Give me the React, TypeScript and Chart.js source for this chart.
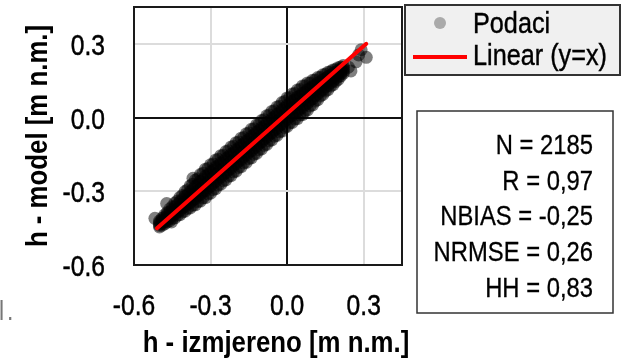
import React, { useEffect, useRef } from "react";
import { Chart, registerables } from "chart.js";

Chart.register(...registerables);

// Measured (x) vs. model (y) water level, m n.m. — read from the picture,
// column by column: [izmjereno, [model values at that izmjereno]]
const podaciPoStupcima: [number, number[]][] = [
  [-0.5, [-0.445, -0.439, -0.433, -0.427, -0.421]],
  [-0.49, [-0.438, -0.431, -0.424, -0.417, -0.41]],
  [-0.48, [-0.433, -0.424, -0.415, -0.406, -0.397]],
  [-0.47, [-0.425, -0.415, -0.406, -0.396, -0.387]],
  [-0.46, [-0.42, -0.408, -0.396, -0.384, -0.372]],
  [-0.45, [-0.411, -0.399, -0.387, -0.375, -0.363]],
  [-0.44, [-0.408, -0.393, -0.378, -0.363, -0.348]],
  [-0.43, [-0.398, -0.384, -0.369, -0.354, -0.34]],
  [-0.42, [-0.395, -0.378, -0.36, -0.343, -0.325]],
  [-0.41, [-0.384, -0.367, -0.35, -0.333, -0.317]],
  [-0.4, [-0.381, -0.361, -0.341, -0.321, -0.301]],
  [-0.39, [-0.37, -0.351, -0.332, -0.313, -0.294]],
  [-0.38, [-0.368, -0.346, -0.323, -0.301, -0.278]],
  [-0.37, [-0.357, -0.335, -0.314, -0.293, -0.271]],
  [-0.36, [-0.355, -0.33, -0.305, -0.28, -0.255]],
  [-0.35, [-0.342, -0.319, -0.296, -0.273, -0.249]],
  [-0.34, [-0.34, -0.313, -0.286, -0.259, -0.232]],
  [-0.33, [-0.327, -0.302, -0.277, -0.252, -0.227]],
  [-0.32, [-0.326, -0.297, -0.268, -0.239, -0.21]],
  [-0.31, [-0.311, -0.285, -0.259, -0.233, -0.207]],
  [-0.3, [-0.308, -0.279, -0.25, -0.221, -0.192]],
  [-0.29, [-0.293, -0.267, -0.241, -0.215, -0.189]],
  [-0.28, [-0.289, -0.26, -0.231, -0.202, -0.173]],
  [-0.27, [-0.274, -0.248, -0.222, -0.196, -0.17]],
  [-0.26, [-0.271, -0.242, -0.213, -0.184, -0.155]],
  [-0.25, [-0.257, -0.231, -0.205, -0.179, -0.153]],
  [-0.24, [-0.254, -0.225, -0.196, -0.167, -0.138]],
  [-0.23, [-0.239, -0.213, -0.187, -0.161, -0.135]],
  [-0.22, [-0.236, -0.207, -0.178, -0.149, -0.12]],
  [-0.21, [-0.221, -0.195, -0.169, -0.143, -0.117]],
  [-0.2, [-0.218, -0.189, -0.16, -0.131, -0.102]],
  [-0.19, [-0.203, -0.177, -0.151, -0.125, -0.099]],
  [-0.18, [-0.2, -0.171, -0.142, -0.113, -0.084]],
  [-0.17, [-0.185, -0.159, -0.133, -0.107, -0.081]],
  [-0.16, [-0.182, -0.153, -0.124, -0.095, -0.066]],
  [-0.15, [-0.167, -0.141, -0.115, -0.089, -0.063]],
  [-0.14, [-0.164, -0.135, -0.106, -0.077, -0.048]],
  [-0.13, [-0.149, -0.123, -0.097, -0.071, -0.045]],
  [-0.12, [-0.146, -0.117, -0.088, -0.059, -0.03]],
  [-0.11, [-0.131, -0.105, -0.079, -0.053, -0.027]],
  [-0.1, [-0.128, -0.099, -0.07, -0.041, -0.012]],
  [-0.09, [-0.113, -0.087, -0.061, -0.035, -0.009]],
  [-0.08, [-0.109, -0.08, -0.051, -0.022, 0.007]],
  [-0.07, [-0.094, -0.068, -0.042, -0.016, 0.01]],
  [-0.06, [-0.091, -0.062, -0.033, -0.004, 0.025]],
  [-0.05, [-0.076, -0.05, -0.024, 0.002, 0.028]],
  [-0.04, [-0.073, -0.044, -0.015, 0.014, 0.043]],
  [-0.03, [-0.058, -0.032, -0.006, 0.02, 0.046]],
  [-0.02, [-0.055, -0.026, 0.003, 0.032, 0.061]],
  [-0.01, [-0.04, -0.014, 0.013, 0.039, 0.065]],
  [0.0, [-0.036, -0.007, 0.022, 0.051, 0.08]],
  [0.01, [-0.022, 0.004, 0.03, 0.056, 0.082]],
  [0.02, [-0.02, 0.009, 0.038, 0.067, 0.096]],
  [0.03, [-0.006, 0.02, 0.046, 0.072, 0.098]],
  [0.04, [-0.004, 0.025, 0.054, 0.083, 0.112]],
  [0.05, [0.01, 0.036, 0.062, 0.088, 0.114]],
  [0.06, [0.012, 0.041, 0.07, 0.099, 0.128]],
  [0.07, [0.027, 0.053, 0.078, 0.103, 0.129]],
  [0.08, [0.031, 0.059, 0.086, 0.114, 0.141]],
  [0.09, [0.047, 0.07, 0.094, 0.118, 0.141]],
  [0.1, [0.052, 0.077, 0.102, 0.127, 0.152]],
  [0.11, [0.067, 0.089, 0.11, 0.131, 0.153]],
  [0.12, [0.073, 0.096, 0.118, 0.141, 0.163]],
  [0.13, [0.088, 0.107, 0.126, 0.145, 0.164]],
  [0.14, [0.094, 0.114, 0.134, 0.154, 0.174]],
  [0.15, [0.108, 0.125, 0.142, 0.159, 0.176]],
  [0.16, [0.114, 0.132, 0.149, 0.167, 0.184]],
  [0.17, [0.128, 0.142, 0.157, 0.172, 0.186]],
  [0.18, [0.134, 0.149, 0.164, 0.179, 0.194]],
  [0.19, [0.147, 0.159, 0.172, 0.184, 0.196]],
  [0.2, [0.155, 0.167, 0.179, 0.191, 0.203]],
  [0.21, [0.17, 0.179, 0.188, 0.197, 0.206]],
  [0.22, [0.18, 0.188, 0.196, 0.204, 0.212]],
  [0.24, [0.205]],
  [0.25, [0.19]],
  // outliers
  [-0.518, [-0.41]],
  [-0.472, [-0.35]],
  [-0.453, [-0.425]],
  [-0.369, [-0.247]],
  [0.27, [0.227]],
  [0.28, [0.255]],
  [0.29, [0.276]],
  [0.31, [0.245]],
];

// Reference line y = x, as drawn
const linijaX = [-0.51, 0.31];
const linijaY = [-0.45, 0.3];

const tickVrijednosti = [-0.6, -0.3, 0.0, 0.3];
const osMin = -0.6;
const osMax = 0.45;

const statistika = ["N = 2185", "R = 0,97", "NBIAS = -0,25", "NRMSE = 0,26", "HH = 0,83"];

const naslovX = "h - izmjereno [m n.m.]";
const naslovY = "h - model [m n.m.]";

const FONT = '"Liberation Sans", Arial, sans-serif';

// text drawn horizontally condensed (Arial Narrow look)
function narrowText(ctx: any, text: string, x: number, y: number, font: string, align: string, sx: number, rot = 0, heavy = 0) {
  ctx.save();
  ctx.translate(x, y);
  if (rot) ctx.rotate(rot);
  ctx.scale(sx, 1);
  ctx.font = font;
  ctx.textAlign = align;
  ctx.textBaseline = "alphabetic";
  ctx.fillText(text, 0, 0);
  if (heavy) {
    ctx.strokeStyle = ctx.fillStyle;
    ctx.lineWidth = heavy;
    ctx.strokeText(text, 0, 0);
  }
  ctx.restore();
}

const overlayPlugin = {
  id: "overlay",
  beforeDatasetsDraw(chart: any) {
    const { ctx, chartArea } = chart;
    ctx.save();
    ctx.strokeStyle = "#1a1a1a";
    ctx.lineWidth = 2;
    ctx.strokeRect(chartArea.left, chartArea.top, chartArea.right - chartArea.left, chartArea.bottom - chartArea.top);
    ctx.restore();
  },
  afterDraw(chart: any) {
    const { ctx, chartArea } = chart;
    const xs = chart.scales.x;
    const ys = chart.scales.y;
    ctx.save();
    ctx.fillStyle = "#000";

    // tick labels
    const tickFont = `30px ${FONT}`;
    xs.ticks.forEach((t: any) => {
      narrowText(ctx, Number(t.value).toFixed(1), xs.getPixelForValue(t.value), 315, tickFont, "center", 0.82, 0, 0.5);
    });
    ys.ticks.forEach((t: any) => {
      narrowText(ctx, Number(t.value).toFixed(1), 105, ys.getPixelForValue(t.value) + 11, tickFont, "right", 0.82, 0, 0.5);
    });

    // axis titles
    const titleFont = `bold 30px ${FONT}`;
    narrowText(ctx, naslovX, 276, 352, titleFont, "center", 0.86);
    narrowText(ctx, naslovY, 47, (chartArea.top + chartArea.bottom) / 2, titleFont, "center", 0.86, -Math.PI / 2);

    // legend
    const ds = chart.data.datasets;
    ctx.fillStyle = "#f0f0f0";
    ctx.fillRect(405, 5, 215, 70);
    ctx.strokeStyle = "#333";
    ctx.lineWidth = 2;
    ctx.strokeRect(405, 5, 215, 70);
    ctx.fillStyle = "#aaaaaa";
    ctx.beginPath();
    ctx.arc(440, 23, 6, 0, Math.PI * 2);
    ctx.fill();
    ctx.strokeStyle = "#ff0000";
    ctx.lineWidth = 4;
    ctx.beginPath();
    ctx.moveTo(413, 57);
    ctx.lineTo(467, 57);
    ctx.stroke();
    ctx.fillStyle = "#000";
    const legFont = `29px ${FONT}`;
    narrowText(ctx, ds[1].label, 473, 33, legFont, "left", 0.87, 0, 0.4);
    narrowText(ctx, ds[0].label, 473, 65, legFont, "left", 0.87, 0, 0.4);

    // statistics box
    ctx.fillStyle = "#fff";
    ctx.fillRect(417, 111, 196, 202);
    ctx.strokeStyle = "#333";
    ctx.lineWidth = 1.5;
    ctx.strokeRect(417, 111, 196, 202);
    ctx.fillStyle = "#000";
    const statFont = `28px ${FONT}`;
    statistika.forEach((s, i) => narrowText(ctx, s, 593, 154 + i * 35.7, statFont, "right", 0.85, 0, 0.3));

    // clipped fragment at the left edge
    ctx.fillStyle = "#777";
    narrowText(ctx, "l", -1, 320, `28px ${FONT}`, "left", 0.82);
    narrowText(ctx, ".", 7, 320, `28px ${FONT}`, "left", 0.82);
    ctx.restore();
  },
};

export default function App() {
  const ref = useRef<HTMLCanvasElement | null>(null);

  useEffect(() => {
    document.body.style.margin = "0";
    const gridColor = (c: any) => (c.tick && c.tick.value === 0 ? "#111" : "#dcdcdc");
    const tocke = podaciPoStupcima.flatMap(([x, ysArr]) => ysArr.map((y) => ({ x, y })));
    const chart = new Chart(ref.current as HTMLCanvasElement, {
      type: "scatter",
      data: {
        datasets: [
          {
            type: "line",
            label: "Linear (y=x)",
            data: linijaX.map((x, i) => ({ x, y: linijaY[i] })),
            borderColor: "#ff0000",
            borderWidth: 4,
            borderCapStyle: "round",
            pointRadius: 0,
            fill: false,
            order: 0,
          } as any,
          {
            label: "Podaci",
            data: tocke,
            backgroundColor: "rgba(0,0,0,0.5)",
            borderWidth: 0,
            pointRadius: 6.5,
            order: 1,
          },
        ],
      },
      options: {
        animation: false,
        responsive: false,
        devicePixelRatio: 1,
        layout: { padding: { left: 0, top: 7, right: 219, bottom: 0 } },
        plugins: { legend: { display: false }, tooltip: { enabled: false } },
        scales: {
          x: {
            type: "linear",
            min: osMin,
            max: osMax,
            afterFit: (s: any) => {
              s.height = 93;
              s.paddingLeft = 0; s.paddingRight = 0; s.paddingTop = 0; s.paddingBottom = 0;
            },
            afterBuildTicks: (s: any) => { s.ticks = tickVrijednosti.map((v) => ({ value: v })); },
            grid: { color: gridColor, lineWidth: 2, drawTicks: false },
            border: { display: false },
            ticks: { display: false },
          },
          y: {
            type: "linear",
            min: osMin,
            max: osMax,
            afterFit: (s: any) => {
              s.width = 134;
              s.paddingLeft = 0; s.paddingRight = 0; s.paddingTop = 0; s.paddingBottom = 0;
            },
            afterBuildTicks: (s: any) => { s.ticks = tickVrijednosti.map((v) => ({ value: v })); },
            grid: { color: gridColor, lineWidth: 2, drawTicks: false },
            border: { display: false },
            ticks: { display: false },
          },
        },
      },
      plugins: [overlayPlugin],
    });
    return () => chart.destroy();
  }, []);

  return (
    <div style={{ position: "fixed", left: 0, top: 0, width: 621, height: 358, background: "#fff" }}>
      <canvas ref={ref} width={621} height={358} />
    </div>
  );
}
